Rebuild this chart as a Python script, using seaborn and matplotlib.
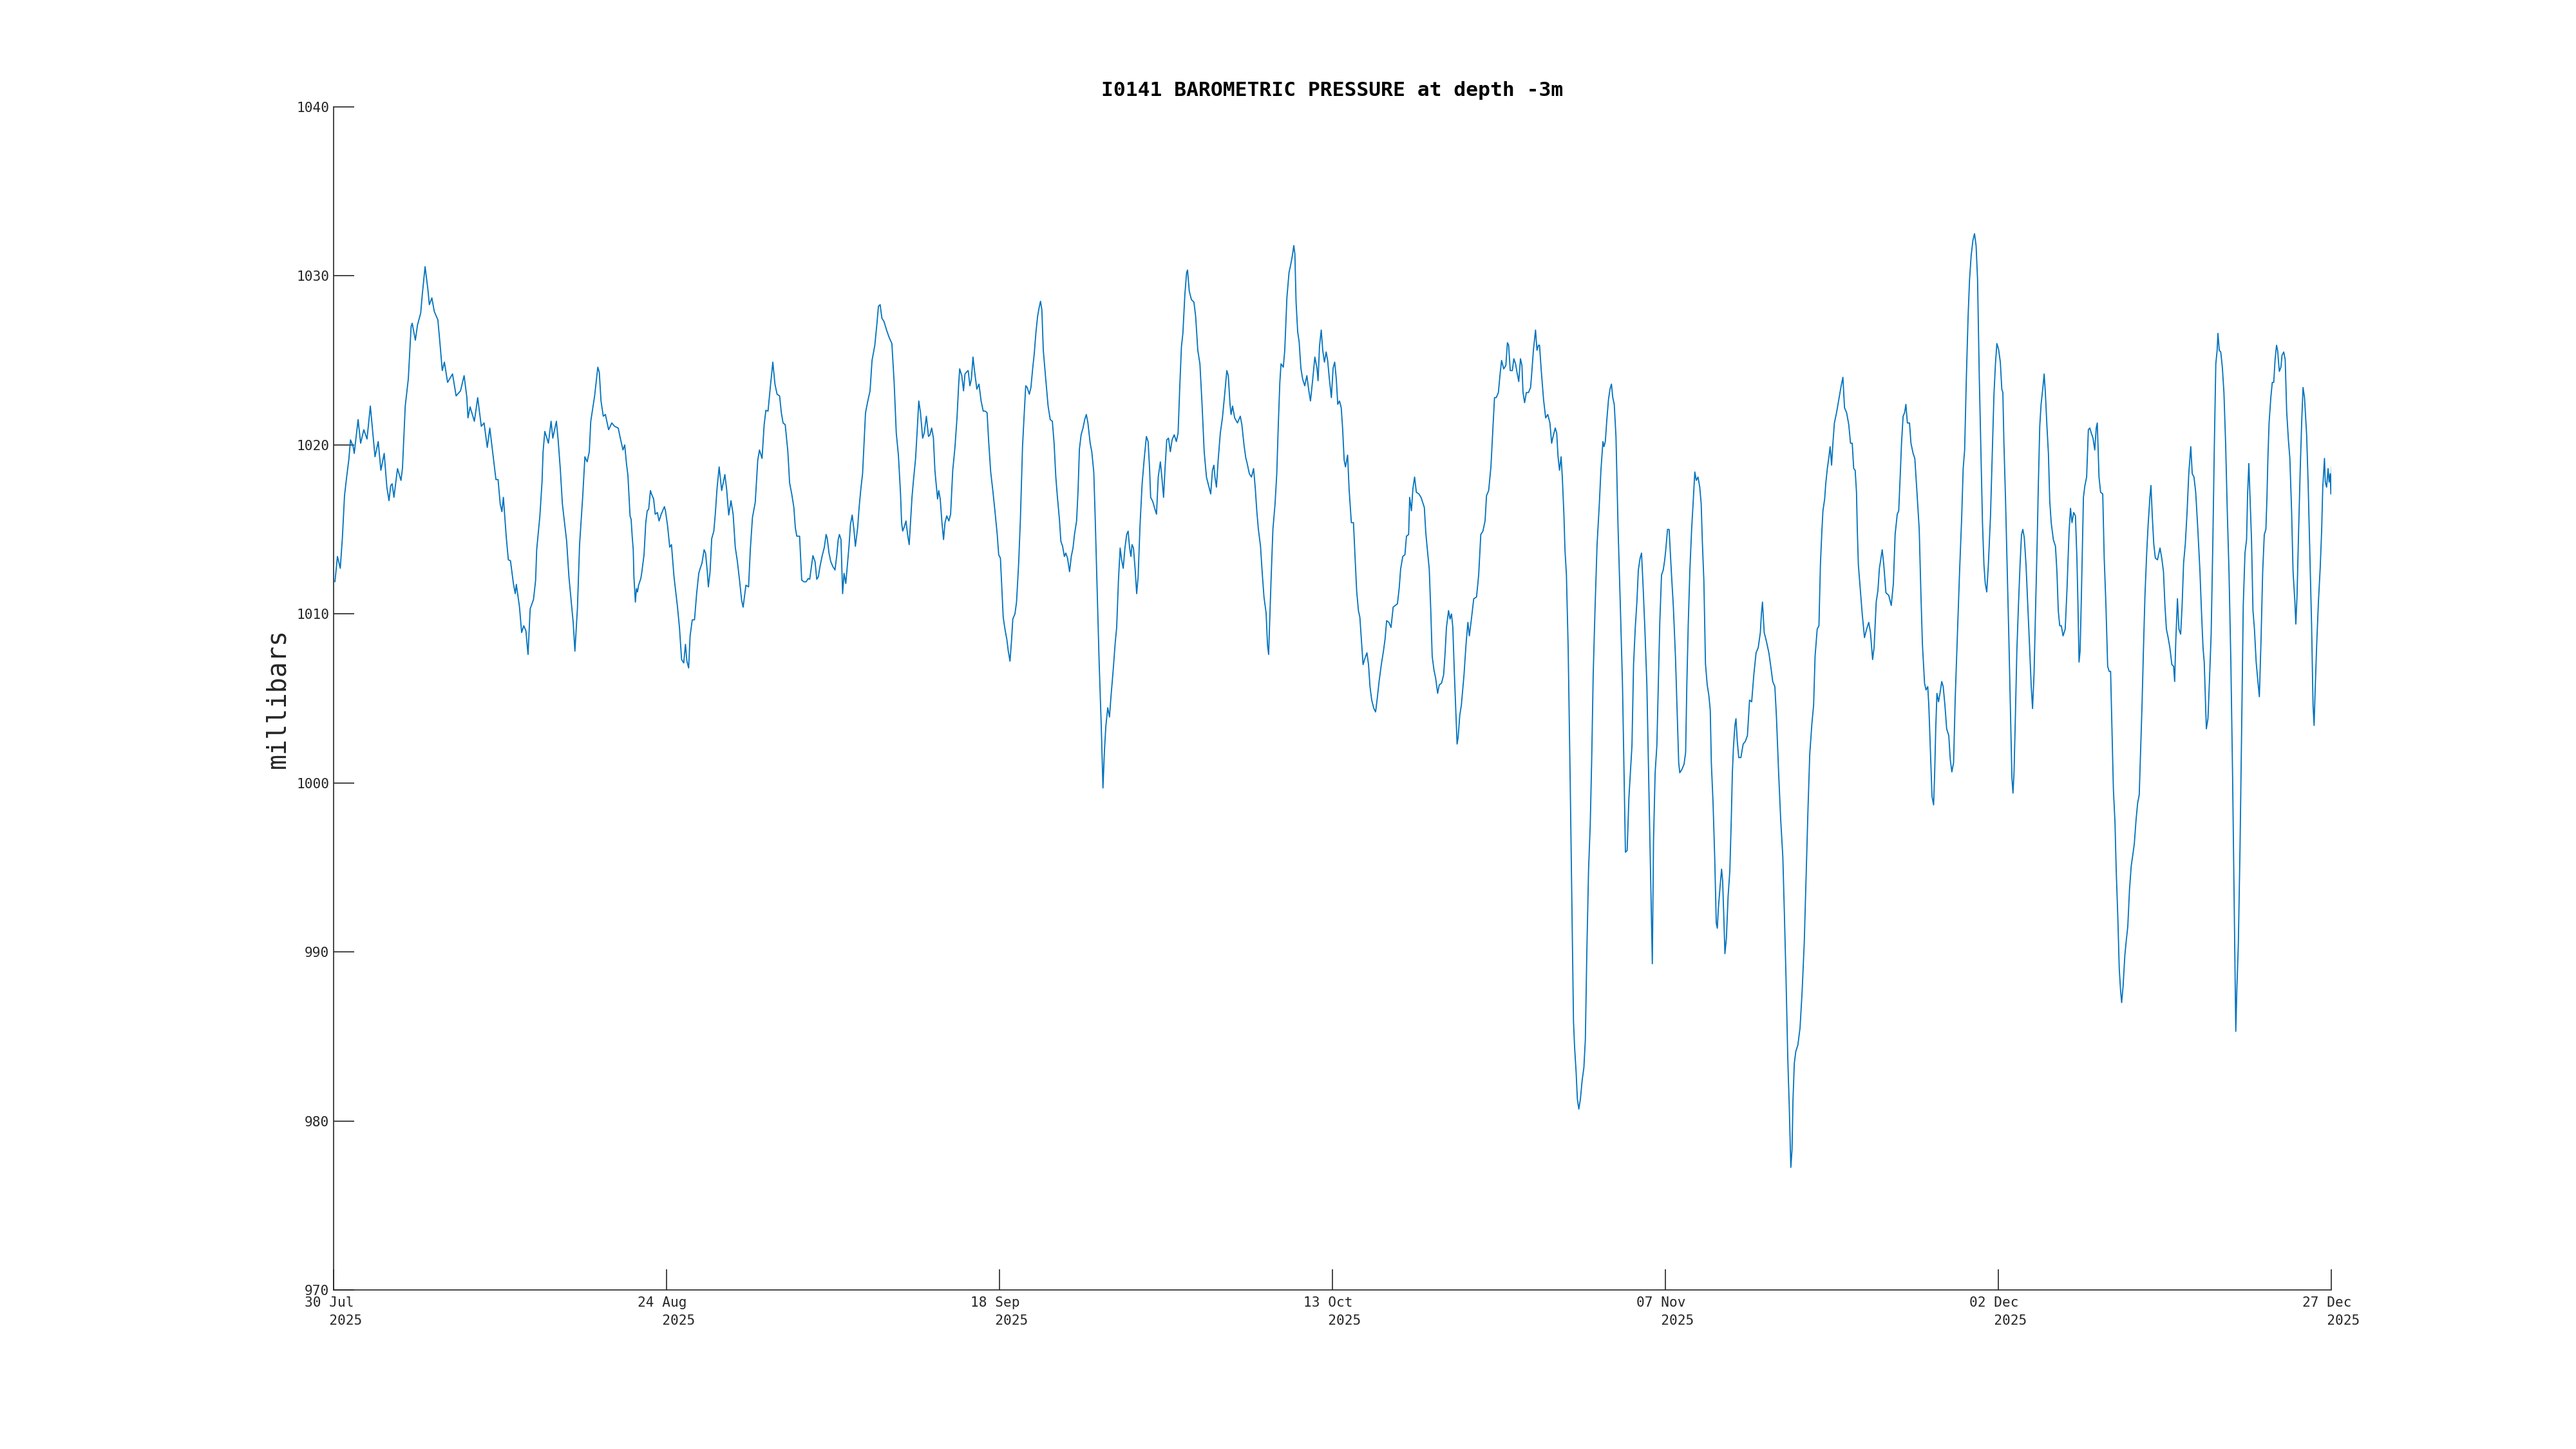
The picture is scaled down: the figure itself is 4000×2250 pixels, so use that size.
import numpy as np
import pandas as pd
import seaborn as sns
import matplotlib.pyplot as plt
import matplotlib.dates as mdates

# pressure readings, days counted from 30 Jul 2025
start = pd.Timestamp("2025-07-30")

days_a = [0.10, 0.29, 0.50, 0.66, 0.82, 0.98, 1.14, 1.27, 1.47, 1.55,
          1.84, 2.03, 2.27, 2.51, 2.76, 3.11, 3.35, 3.55, 3.80, 4.00,
          4.16, 4.29, 4.40, 4.53, 4.80, 5.06, 5.17, 5.38, 5.61, 5.82,
          5.90, 6.14, 6.30, 6.54, 6.66, 6.87, 7.08, 7.19, 7.38, 7.56,
          7.83, 8.00, 8.16, 8.32, 8.56, 8.93, 9.20, 9.53, 9.80, 10.01,
          10.09, 10.25, 10.57, 10.82, 11.09, 11.30, 11.54, 11.73, 11.94, 12.19,
          12.35, 12.51, 12.64, 12.75, 12.96, 13.12, 13.28, 13.51, 13.64, 13.72,
          13.96, 14.12, 14.28, 14.44, 14.60, 14.76, 15.01, 15.17, 15.25, 15.49,
          15.65, 15.73, 15.86, 16.13, 16.33, 16.46, 16.73, 16.86, 17.02, 17.18,
          17.50, 17.67, 17.99, 18.12, 18.31, 18.47, 18.71, 18.87, 19.04, 19.20,
          19.31, 19.60, 19.84, 19.95, 20.08, 20.25, 20.41, 20.65, 20.89, 21.10,
          21.37]
mbar_a = [1011.9, 1013.4, 1012.7, 1014.5, 1017.0, 1018.1, 1019.1, 1020.3, 1019.9, 1019.5,
          1021.5, 1020.1, 1020.9, 1020.35, 1022.3, 1019.3, 1020.2, 1018.5, 1019.5, 1017.5,
          1016.7, 1017.6, 1017.7, 1016.9, 1018.6, 1017.9, 1018.6, 1022.3, 1023.9, 1027.0,
          1027.2, 1026.2, 1027.1, 1027.8, 1028.9, 1030.55, 1029.2, 1028.3, 1028.7, 1027.9,
          1027.4, 1025.9, 1024.4, 1024.9, 1023.7, 1024.2, 1022.9, 1023.2, 1024.1, 1022.8,
          1021.6, 1022.25, 1021.4, 1022.8, 1021.1, 1021.3, 1019.85, 1021.0, 1019.6, 1017.95,
          1017.95, 1016.5, 1016.05, 1016.9, 1014.6, 1013.2, 1013.15, 1011.75, 1011.2, 1011.75,
          1010.4, 1008.9, 1009.3, 1009.0, 1007.6, 1010.3, 1010.85, 1012.0, 1013.8, 1015.8,
          1017.8, 1019.6, 1020.8, 1020.1, 1021.4, 1020.4, 1021.4, 1020.3, 1018.6, 1016.5,
          1014.3, 1012.2, 1009.5, 1007.8, 1010.35, 1014.1, 1017.0, 1019.3, 1019.0, 1019.6,
          1021.4, 1022.9, 1024.6, 1024.3, 1022.6, 1021.7, 1021.8, 1020.9, 1021.3, 1021.1,
          1021.0]

days_b = [21.53, 21.73, 21.86, 21.99, 22.10, 22.26, 22.34, 22.42, 22.50, 22.55,
          22.66, 22.74, 22.82, 22.90, 23.07, 23.15, 23.31, 23.44, 23.55, 23.66,
          23.79, 23.87, 24.03, 24.15, 24.31, 24.44, 24.60, 24.84, 24.92, 25.08,
          25.24, 25.37, 25.56, 25.81, 25.97, 26.13, 26.29, 26.42, 26.53, 26.66,
          26.77, 26.93, 27.10, 27.26, 27.42, 27.53, 27.66, 27.82, 27.93, 28.06,
          28.14, 28.27, 28.39, 28.55, 28.66, 28.79, 28.95, 29.14, 29.27, 29.38,
          29.51, 29.67, 29.84, 30.00, 30.16, 30.32, 30.48, 30.64, 30.75, 30.96,
          31.16, 31.29, 31.45, 31.66, 31.85, 31.98, 32.17, 32.33, 32.46, 32.62,
          32.79, 32.98, 33.14, 33.30, 33.49, 33.62, 33.75, 33.91, 34.11, 34.24,
          34.40, 34.56, 34.67, 34.78, 34.99, 35.15, 35.32, 35.48, 35.64, 35.75,
          35.88, 35.99, 36.15, 36.28, 36.40, 36.52, 36.69, 36.85, 36.98, 37.06,
          37.20, 37.33, 37.49, 37.65, 37.78, 37.89, 37.98, 38.10, 38.22, 38.33,
          38.46, 38.62, 38.70, 38.81, 38.94, 39.07, 39.18, 39.35, 39.46, 39.59,
          39.72, 39.83, 39.94, 40.10, 40.28, 40.43, 40.64, 40.80, 40.91, 41.04,
          41.17, 41.33, 41.52, 41.72, 41.92, 42.09, 42.25, 42.41, 42.57]
mbar_b = [1020.4, 1019.7, 1020.0, 1018.9, 1018.2, 1015.8, 1015.6, 1014.6, 1013.8, 1012.2,
          1010.7, 1011.5, 1011.3, 1011.7, 1012.1, 1012.5, 1013.5, 1015.4, 1016.1, 1016.2,
          1017.3, 1017.1, 1016.8, 1015.9, 1016.0, 1015.5, 1015.9, 1016.35, 1016.1, 1015.2,
          1013.95, 1014.1, 1012.2, 1010.5, 1009.2, 1007.3, 1007.1, 1008.2, 1007.2, 1006.8,
          1008.7, 1009.65, 1009.65, 1011.2, 1012.4, 1012.7, 1013.0, 1013.8, 1013.6, 1012.5,
          1011.6, 1012.5, 1014.45, 1014.9, 1015.9, 1017.4, 1018.7, 1017.3, 1017.8, 1018.25,
          1017.4, 1015.85, 1016.7, 1015.9, 1013.95, 1013.1, 1012.0, 1010.8, 1010.4, 1011.7,
          1011.6, 1013.8, 1015.7, 1016.6, 1019.1, 1019.7, 1019.2, 1021.2, 1022.05, 1022.0,
          1023.4, 1024.9, 1023.6, 1023.0, 1022.9, 1021.9, 1021.3, 1021.2, 1019.6, 1017.75,
          1017.1, 1016.3, 1015.1, 1014.6, 1014.6, 1012.0, 1011.9, 1011.9, 1012.1, 1012.05,
          1012.8, 1013.45, 1013.1, 1012.05, 1012.2, 1012.8, 1013.45, 1013.95, 1014.7, 1014.5,
          1013.6, 1013.1, 1012.8, 1012.6, 1013.45, 1014.4, 1014.7, 1014.4, 1011.2, 1012.4,
          1011.8, 1013.3, 1014.0, 1015.3, 1015.85, 1015.0, 1014.0, 1015.1, 1016.3, 1017.4,
          1018.3, 1020.1, 1021.9, 1022.55, 1023.2, 1025.0, 1025.9, 1027.2, 1028.2, 1028.3,
          1027.5, 1027.3, 1026.8, 1026.35, 1026.0, 1023.7, 1020.7, 1019.4, 1017.1]

days_c = [42.65, 42.73, 42.85, 42.98, 43.10, 43.22, 43.33, 43.43, 43.54, 43.70,
          43.81, 43.94, 44.07, 44.23, 44.35, 44.51, 44.67, 44.78, 44.91, 45.04,
          45.15, 45.35, 45.44, 45.55, 45.68, 45.80, 45.91, 46.04, 46.20, 46.33,
          46.49, 46.65, 46.81, 46.93, 47.01, 47.17, 47.30, 47.41, 47.57, 47.65,
          47.78, 47.89, 48.01, 48.13, 48.30, 48.46, 48.62, 48.78, 48.94, 49.07,
          49.18, 49.34, 49.50, 49.67, 49.83, 49.94, 50.07, 50.18, 50.28, 50.42,
          50.55, 50.66, 50.79, 50.91, 51.00, 51.16, 51.28, 51.44, 51.57, 51.73,
          51.84, 51.97, 52.08, 52.24, 52.36, 52.49, 52.61, 52.73, 52.86, 52.97,
          53.08, 53.18, 53.29, 53.45, 53.65, 53.81, 53.97, 54.10, 54.23, 54.34,
          54.50, 54.61, 54.74, 54.87, 54.98, 55.11, 55.26, 55.39, 55.52, 55.63,
          55.79, 55.90, 56.00, 56.13, 56.27, 56.40, 56.52, 56.64, 56.81, 56.93,
          57.08, 57.19, 57.32, 57.48, 57.64, 57.77, 57.88, 57.99, 58.13, 58.26,
          58.37, 58.53, 58.69, 58.80, 58.93, 59.06, 59.17, 59.29, 59.42, 59.55,
          59.66, 59.77, 59.87, 59.95, 60.06, 60.19, 60.30, 60.41, 60.55, 60.71,
          60.87, 61.03, 61.16, 61.27, 61.35, 61.51, 61.67, 61.79, 61.92, 62.08,
          62.19, 62.32, 62.43, 62.56, 62.69, 62.83, 62.96, 63.12, 63.28, 63.41,
          63.53, 63.66, 63.77]
mbar_c = [1015.4, 1014.9, 1015.15, 1015.5, 1014.7, 1014.1, 1015.6, 1016.9, 1017.9, 1019.2,
          1020.7, 1022.6, 1021.9, 1020.4, 1020.7, 1021.7, 1020.5, 1020.6, 1021.0, 1020.4,
          1018.5, 1016.8, 1017.3, 1016.8, 1015.4, 1014.4, 1015.4, 1015.8, 1015.5, 1015.9,
          1018.5, 1019.8, 1021.6, 1023.5, 1024.5, 1024.1, 1023.2, 1024.2, 1024.35, 1024.4,
          1023.5, 1023.9, 1025.2, 1024.35, 1023.3, 1023.6, 1022.6, 1022.0, 1022.0, 1021.9,
          1020.3, 1018.4, 1017.3, 1016.0, 1014.7, 1013.5, 1013.3, 1011.5, 1009.8, 1009.05,
          1008.5, 1007.8, 1007.2, 1008.5, 1009.7, 1010.0, 1010.7, 1013.0, 1015.6, 1019.9,
          1021.6, 1023.5, 1023.4, 1023.0, 1023.4, 1024.5, 1025.4, 1026.6, 1027.6, 1028.1,
          1028.5, 1028.0, 1025.6, 1024.1, 1022.3, 1021.5, 1021.4, 1020.1, 1018.1, 1017.0,
          1015.6, 1014.3, 1014.0, 1013.4, 1013.6, 1013.3, 1012.5, 1013.4, 1013.9, 1014.7,
          1015.5, 1017.3, 1019.75, 1020.6, 1021.0, 1021.5, 1021.8, 1021.3, 1020.1, 1019.6,
          1018.4, 1015.6, 1011.9, 1007.2, 1003.4, 999.7, 1001.9, 1003.4, 1004.45, 1003.9,
          1005.1, 1006.6, 1008.3, 1009.2, 1011.95, 1013.9, 1013.2, 1012.7, 1013.9, 1014.7,
          1014.9, 1013.9, 1013.4, 1014.1, 1013.9, 1012.6, 1011.2, 1012.2, 1015.2, 1017.7,
          1019.2, 1020.5, 1020.2, 1018.6, 1016.9, 1016.65, 1016.2, 1015.9, 1018.1, 1019.0,
          1018.1, 1016.9, 1018.6, 1020.3, 1020.4, 1019.6, 1020.3, 1020.6, 1020.2, 1020.7,
          1023.3, 1025.8, 1026.6]

days_d = [63.92, 64.05, 64.12, 64.25, 64.41, 64.60, 64.73, 64.89, 65.05, 65.21,
          65.37, 65.54, 65.70, 65.86, 65.99, 66.10, 66.18, 66.29, 66.42, 66.58,
          66.74, 66.91, 67.07, 67.18, 67.31, 67.39, 67.50, 67.66, 67.87, 68.08,
          68.20, 68.36, 68.49, 68.60, 68.76, 68.92, 69.08, 69.21, 69.32, 69.44,
          69.60, 69.73, 69.86, 70.02, 70.13, 70.21, 70.29, 70.40, 70.53, 70.69,
          70.82, 70.94, 71.05, 71.14, 71.31, 71.42, 71.58, 71.74, 71.85, 71.98,
          72.10, 72.18, 72.27, 72.39, 72.50, 72.63, 72.76, 72.92, 73.08, 73.22,
          73.35, 73.51, 73.68, 73.84, 73.92, 74.03, 74.16, 74.27, 74.40, 74.53,
          74.64, 74.77, 74.92, 75.05, 75.17, 75.29, 75.40, 75.53, 75.66, 75.77,
          75.88, 75.98, 76.14, 76.25, 76.42, 76.58, 76.69, 76.82, 76.95, 77.06,
          77.17, 77.30, 77.43, 77.59, 77.71, 77.82, 77.95, 78.11, 78.24, 78.35,
          78.51, 78.67, 78.83, 78.95, 79.07, 79.24, 79.40, 79.56, 79.72, 79.88,
          80.01, 80.12, 80.28, 80.44, 80.56, 80.72, 80.80, 80.93, 81.04, 81.17,
          81.30, 81.49, 81.65, 81.90, 82.01, 82.14, 82.27, 82.38, 82.49, 82.62,
          82.75, 82.90, 83.02, 83.19, 83.35, 83.46, 83.56, 83.72, 83.83, 83.94,
          84.04, 84.15, 84.27, 84.36, 84.44, 84.56, 84.68]
mbar_d = [1028.9, 1030.2, 1030.35, 1029.1, 1028.6, 1028.45, 1027.6, 1025.6, 1024.8, 1022.4,
          1019.6, 1018.1, 1017.6, 1017.1, 1018.5, 1018.8, 1018.1, 1017.5, 1019.1, 1020.7,
          1021.6, 1023.0, 1024.4, 1024.1, 1022.4, 1021.8, 1022.3, 1021.6, 1021.3, 1021.7,
          1021.2, 1020.0, 1019.25, 1018.9, 1018.3, 1018.1, 1018.6, 1017.4, 1016.1, 1015.0,
          1014.0, 1012.4, 1011.0, 1010.05, 1008.1, 1007.6, 1009.6, 1012.2, 1015.0, 1016.5,
          1018.3, 1021.3, 1023.7, 1024.8, 1024.6, 1025.6, 1028.7, 1030.2, 1030.6, 1031.15,
          1031.8, 1031.3, 1028.45, 1026.7, 1026.1, 1024.55, 1023.9, 1023.5, 1024.1, 1023.25,
          1022.6, 1023.8, 1025.2, 1024.55, 1023.8, 1025.85, 1026.8, 1025.6, 1024.9, 1025.5,
          1025.0, 1023.9, 1022.8, 1024.55, 1024.9, 1023.9, 1022.4, 1022.6, 1022.2, 1020.9,
          1019.1, 1018.7, 1019.4, 1017.4, 1015.4, 1015.4, 1013.5, 1011.35, 1010.2, 1009.8,
          1008.5, 1007.0, 1007.35, 1007.7, 1007.0, 1005.7, 1004.9, 1004.4, 1004.2, 1004.9,
          1006.05, 1007.0, 1007.8, 1008.5, 1009.6, 1009.5, 1009.2, 1010.4, 1010.5, 1010.6,
          1011.5, 1012.65, 1013.4, 1013.5, 1014.6, 1014.7, 1016.9, 1016.1, 1017.4, 1018.1,
          1017.2, 1017.1, 1016.9, 1016.3, 1014.8, 1013.7, 1012.65, 1010.3, 1007.5, 1006.7,
          1006.2, 1005.3, 1005.8, 1005.9, 1006.4, 1007.7, 1009.2, 1010.2, 1009.7, 1010.0,
          1009.2, 1006.6, 1004.2, 1002.3, 1002.7, 1004.0, 1004.6]

days_e = [84.88, 85.04, 85.17, 85.28, 85.45, 85.61, 85.82, 85.98, 86.14, 86.30,
          86.46, 86.57, 86.73, 86.90, 87.06, 87.17, 87.30, 87.46, 87.59, 87.70,
          87.86, 88.02, 88.14, 88.23, 88.35, 88.51, 88.62, 88.75, 88.88, 88.99,
          89.12, 89.23, 89.31, 89.43, 89.56, 89.72, 89.88, 89.96, 90.09, 90.25,
          90.36, 90.47, 90.55, 90.68, 90.85, 91.01, 91.17, 91.33, 91.46, 91.57,
          91.73, 91.84, 91.94, 92.05, 92.17, 92.26, 92.38, 92.46, 92.57, 92.70,
          92.86, 93.02, 93.10, 93.18, 93.30, 93.39, 93.50, 93.62, 93.75, 93.88,
          93.99, 94.10, 94.23, 94.36, 94.47, 94.58, 94.71, 94.87, 95.04, 95.16,
          95.31, 95.39, 95.49, 95.60, 95.73, 95.84, 95.95, 96.05, 96.16, 96.29,
          96.45, 96.62, 96.78, 96.89, 97.00, 97.13, 97.26, 97.37, 97.49, 97.61,
          97.74, 97.86, 97.97, 98.10, 98.21, 98.34, 98.47, 98.61, 98.74, 98.87,
          98.95, 99.02, 99.11, 99.23, 99.36, 99.47, 99.58, 99.71, 99.84, 99.95,
          100.03, 100.16, 100.28, 100.44, 100.60, 100.76, 100.89, 101.00, 101.08, 101.24,
          101.40, 101.52, 101.61, 101.72, 101.84, 101.97, 102.10, 102.21, 102.32, 102.45,
          102.58, 102.69, 102.77, 102.89, 103.01, 103.14, 103.26, 103.37, 103.45, 103.58,
          103.71, 103.82, 103.90, 103.98, 104.11, 104.22, 104.30, 104.39, 104.47, 104.58,
          104.71, 104.84, 104.95, 105.03, 105.11, 105.22, 105.30, 105.40, 105.51, 105.67,
          105.84]
mbar_e = [1006.4, 1008.3, 1009.5, 1008.7, 1009.8, 1010.9, 1011.0, 1012.3, 1014.7, 1014.9,
          1015.5, 1017.0, 1017.3, 1018.7, 1021.1, 1022.8, 1022.8, 1023.1, 1024.2, 1025.0,
          1024.5, 1024.7, 1026.05, 1025.9, 1024.4, 1024.4, 1025.1, 1024.8, 1024.2, 1023.75,
          1025.1, 1024.7, 1023.1, 1022.5, 1023.1, 1023.1, 1023.4, 1024.2, 1025.6, 1026.8,
          1025.6, 1025.9, 1025.9, 1024.4, 1022.7, 1021.6, 1021.8, 1021.3, 1020.1, 1020.5,
          1021.0, 1020.7, 1019.3, 1018.5, 1019.3, 1018.1, 1015.9, 1013.8, 1012.3, 1008.0,
          999.7, 990.5, 985.9, 984.4, 982.85, 981.3, 980.7, 981.3, 982.4, 983.15,
          984.8, 989.9, 994.8, 997.6, 1001.5, 1006.4, 1010.1, 1014.1, 1016.5, 1018.5,
          1020.2, 1019.9, 1020.2, 1021.45, 1022.7, 1023.3, 1023.6, 1022.8, 1022.4, 1020.5,
          1015.0, 1010.4, 1005.8, 1000.9, 995.9, 996.0, 999.1, 1000.6, 1002.2, 1007.0,
          1009.2, 1010.7, 1012.6, 1013.3, 1013.6, 1011.4, 1008.9, 1005.8, 1000.6, 995.4,
          992.0, 989.3, 996.6, 1000.6, 1002.2, 1005.8, 1009.5, 1012.3, 1012.6, 1013.2,
          1013.8, 1015.0, 1015.0, 1012.6, 1010.4, 1007.4, 1004.0, 1001.2, 1000.6, 1000.8,
          1001.1, 1001.8, 1005.8, 1009.5, 1012.6, 1015.0, 1016.8, 1018.4, 1017.9, 1018.1,
          1017.5, 1016.5, 1014.4, 1011.95, 1007.05, 1005.8, 1005.2, 1004.3, 1001.2, 998.8,
          995.4, 991.7, 991.4, 992.6, 993.9, 994.9, 994.2, 992.0, 989.9, 990.8,
          993.3, 994.8, 997.9, 1000.6, 1002.1, 1003.4, 1003.8, 1002.45, 1001.5, 1001.5,
          1002.3]

days_f = [106.00, 106.16, 106.32, 106.48, 106.64, 106.81, 106.97, 107.13, 107.21, 107.29,
          107.42, 107.58, 107.77, 107.93, 108.06, 108.22, 108.34, 108.50, 108.66, 108.82,
          108.93, 109.06, 109.19, 109.30, 109.42, 109.51, 109.58, 109.68, 109.79, 109.95,
          110.11, 110.27, 110.43, 110.59, 110.71, 110.84, 111.00, 111.13, 111.24, 111.40,
          111.53, 111.64, 111.75, 111.83, 111.96, 112.04, 112.16, 112.29, 112.37, 112.48,
          112.58, 112.69, 112.85, 112.96, 113.09, 113.20, 113.33, 113.45, 113.61, 113.77,
          113.90, 114.03, 114.14, 114.25, 114.35, 114.41, 114.49, 114.62, 114.78, 114.95,
          115.11, 115.27, 115.40, 115.56, 115.67, 115.83, 115.96, 116.07, 116.15, 116.28,
          116.40, 116.56, 116.77, 116.96, 117.12, 117.25, 117.41, 117.52, 117.64, 117.73,
          117.85, 117.96, 118.06, 118.17, 118.33, 118.44, 118.60, 118.73, 118.89, 119.06,
          119.19, 119.30, 119.46, 119.57, 119.70, 119.78, 119.89, 120.02, 120.14, 120.22,
          120.30, 120.39, 120.51, 120.62, 120.75, 120.86, 120.99, 121.12, 121.28, 121.39,
          121.51, 121.64, 121.76, 121.93, 122.09, 122.25, 122.36, 122.47, 122.60, 122.73,
          122.84, 122.96, 123.09, 123.21, 123.33, 123.44, 123.57, 123.70, 123.81, 123.92,
          124.02, 124.13, 124.25, 124.41, 124.54, 124.67, 124.78, 124.89, 125.02, 125.15,
          125.26, 125.34, 125.42, 125.54, 125.66, 125.79, 125.91, 126.02, 126.10, 126.18,
          126.28, 126.39, 126.52, 126.63, 126.74, 126.84, 126.95, 127.08, 127.24, 127.36,
          127.47, 127.57, 127.68]
mbar_f = [1002.45, 1002.8, 1004.9, 1004.8, 1006.4, 1007.7, 1008.0, 1008.9, 1010.0, 1010.7,
          1008.9, 1008.4, 1007.7, 1006.8, 1006.0, 1005.7, 1003.9, 1000.65, 997.8, 995.6,
          992.4, 988.4, 983.7, 980.9, 977.25, 978.3, 981.2, 983.4, 984.1, 984.5,
          985.5, 987.7, 990.6, 995.2, 998.5, 1001.7, 1003.5, 1004.6, 1007.5, 1009.1,
          1009.3, 1012.9, 1014.9, 1016.1, 1016.8, 1017.7, 1018.6, 1019.35, 1019.9, 1018.8,
          1020.1, 1021.3, 1021.9, 1022.4, 1023.0, 1023.5, 1024.0, 1022.2, 1021.9, 1021.2,
          1020.1, 1020.1, 1018.6, 1018.5, 1017.2, 1015.0, 1012.9, 1011.6, 1010.0, 1008.6,
          1009.1, 1009.5, 1008.9, 1007.3, 1008.0, 1010.7, 1011.4, 1012.7, 1013.1, 1013.8,
          1012.9, 1011.25, 1011.1, 1010.5, 1011.8, 1014.7, 1015.9, 1016.1, 1018.3, 1020.1,
          1021.7, 1021.9, 1022.4, 1021.3, 1021.3, 1020.1, 1019.5, 1019.2, 1017.2, 1015.0,
          1011.1, 1008.2, 1005.9, 1005.5, 1005.7, 1004.6, 1002.1, 999.2, 998.7, 1000.6,
          1003.2, 1005.3, 1004.8, 1005.3, 1006.0, 1005.7, 1004.6, 1003.2, 1002.8, 1001.4,
          1000.65, 1001.2, 1004.95, 1008.9, 1012.5, 1015.75, 1018.6, 1019.7, 1024.0, 1027.6,
          1029.8, 1031.2, 1032.1, 1032.5, 1031.8, 1029.8, 1024.0, 1019.35, 1015.4, 1012.9,
          1011.8, 1011.3, 1012.9, 1015.75, 1019.35, 1022.95, 1024.75, 1026.0, 1025.65, 1024.9,
          1023.3, 1023.1, 1020.1, 1016.8, 1012.9, 1008.6, 1004.2, 1000.3, 999.4, 1000.65,
          1003.9, 1007.8, 1010.7, 1012.9, 1014.7, 1015.0, 1014.5, 1012.9, 1010.0, 1007.8,
          1005.7, 1004.4, 1006.4]

days_g = [127.92, 128.00, 128.11, 128.21, 128.32, 128.44, 128.53, 128.65, 128.76, 128.86,
          128.97, 129.13, 129.29, 129.40, 129.50, 129.61, 129.73, 129.86, 130.02, 130.15,
          130.31, 130.42, 130.53, 130.66, 130.79, 130.90, 130.98, 131.06, 131.14, 131.23,
          131.31, 131.39, 131.50, 131.63, 131.76, 131.87, 131.98, 132.11, 132.24, 132.35,
          132.43, 132.56, 132.68, 132.84, 132.95, 133.08, 133.21, 133.32, 133.43, 133.53,
          133.64, 133.76, 133.85, 133.97, 134.08, 134.18, 134.26, 134.37, 134.50, 134.61,
          134.72, 134.85, 134.98, 135.09, 135.21, 135.34, 135.46, 135.58, 135.69, 135.79,
          135.90, 136.01, 136.14, 136.25, 136.38, 136.46, 136.56, 136.67, 136.79, 136.95,
          137.14, 137.27, 137.40, 137.51, 137.62, 137.75, 137.88, 138.03, 138.16, 138.24,
          138.32, 138.45, 138.56, 138.69, 138.80, 138.91, 139.04, 139.17, 139.30, 139.45,
          139.56, 139.69, 139.82, 139.98, 140.14, 140.25, 140.37, 140.46, 140.54, 140.62,
          140.74, 140.85, 140.98, 141.11, 141.22, 141.33, 141.43, 141.49, 141.59, 141.70,
          141.82, 141.94, 142.07, 142.19, 142.32, 142.46, 142.59, 142.72, 142.83, 142.91,
          143.02, 143.15, 143.27, 143.39, 143.52, 143.64, 143.72, 143.81, 143.91, 144.01,
          144.12, 144.23, 144.36, 144.49, 144.60, 144.72, 144.85, 144.97, 145.09, 145.17,
          145.24, 145.33, 145.46, 145.57, 145.68, 145.78, 145.89, 145.97, 146.10, 146.22,
          146.30, 146.43, 146.54, 146.65, 146.78, 146.89, 147.02, 147.13, 147.26, 147.34,
          147.43, 147.55, 147.67, 147.78, 147.88, 147.99, 148.07, 148.15, 148.26, 148.39,
          148.52, 148.63, 148.71, 148.79, 148.91, 149.04, 149.17, 149.28, 149.36, 149.49,
          149.55, 149.65, 149.76, 149.84, 149.92, 149.97, 150.04]
mbar_g = [1014.4, 1017.5, 1021.1, 1022.4, 1023.2, 1024.2, 1023.1, 1021.1, 1019.5, 1016.7,
          1015.4, 1014.4, 1014.0, 1012.5, 1010.2, 1009.3, 1009.3, 1008.7, 1009.1, 1011.35,
          1014.85, 1016.25, 1015.4, 1016.0, 1015.8, 1013.3, 1010.5, 1007.15, 1007.8, 1010.8,
          1013.9, 1016.9, 1017.6, 1018.1, 1020.9, 1021.0, 1020.7, 1020.4, 1019.7, 1021.0,
          1021.3, 1018.1, 1017.2, 1017.1, 1013.3, 1010.5, 1006.9, 1006.6, 1006.6, 1003.2,
          999.6, 997.65, 994.85, 992.1, 989.0, 987.7, 987.0, 988.0, 989.8, 990.7,
          991.5, 993.7, 995.1, 995.7, 996.4, 997.8, 998.8, 999.3, 1002.1, 1004.6,
          1008.0, 1011.1, 1013.6, 1015.3, 1016.9, 1017.6, 1015.8, 1014.15, 1013.3, 1013.2,
          1013.9, 1013.3, 1012.5, 1010.5, 1009.1, 1008.6, 1008.0, 1007.0, 1006.9, 1006.0,
          1008.3, 1010.9, 1009.1, 1008.8, 1010.5, 1013.0, 1014.15, 1016.0, 1018.3, 1019.9,
          1018.3, 1018.1, 1017.2, 1015.0, 1012.5, 1010.2, 1008.0, 1007.15, 1005.2, 1003.2,
          1003.8, 1006.0, 1008.8, 1014.4, 1020.0, 1024.8, 1025.6, 1026.6, 1025.6, 1025.5,
          1024.6, 1023.1, 1020.0, 1016.1, 1012.5, 1007.15, 1000.4, 992.06, 985.3, 987.8,
          990.4, 996.25, 1003.2, 1010.5, 1013.6, 1014.4, 1017.2, 1018.9, 1016.7, 1014.4,
          1010.2, 1009.1, 1007.15, 1006.0, 1005.1, 1008.3, 1012.5, 1014.7, 1015.0, 1016.9,
          1019.2, 1021.3, 1022.8, 1023.7, 1023.7, 1025.05, 1025.9, 1025.6, 1024.35, 1024.6,
          1025.3, 1025.5, 1025.05, 1022.0, 1020.3, 1019.2, 1016.1, 1012.5, 1010.8, 1009.4,
          1011.1, 1015.0, 1018.6, 1021.4, 1023.4, 1022.8, 1021.7, 1020.6, 1017.8, 1013.6,
          1009.4, 1004.6, 1003.4, 1005.5, 1008.3, 1010.8, 1012.75, 1015.0, 1017.5, 1019.2,
          1017.8, 1017.5, 1018.6, 1017.8, 1018.3, 1017.1, 1018.8]

tick_days = [0, 25, 50, 75, 100, 125, 150]
tick_labels = ["30 Jul", "24 Aug", "18 Sep", "13 Oct", "07 Nov", "02 Dec", "27 Dec"]
year_label = "2025"
y_ticks = [970, 980, 990, 1000, 1010, 1020, 1030, 1040]

title = "I0141 BAROMETRIC PRESSURE at depth -3m"

days = np.concatenate([days_a, days_b, days_c, days_d, days_e, days_f, days_g])
mbar = np.concatenate([mbar_a, mbar_b, mbar_c, mbar_d, mbar_e, mbar_f, mbar_g])
df = pd.DataFrame({"time": start + pd.to_timedelta(days, unit="D"), "mbar": mbar})

sns.set_theme(style="white")
plt.rcParams["font.family"] = ["DejaVu Sans Mono", "DejaVu Sans"]
ink = "#262626"

fig = plt.figure(figsize=(20, 11.25), dpi=200)
ax = fig.add_axes([0.1295, 0.1098, 0.7755, 0.8164])

sns.lineplot(data=df, x="time", y="mbar", ax=ax, color="#0072BD",
             linewidth=0.65, estimator=None, sort=False)

tick_dates = [mdates.date2num(start + pd.Timedelta(days=d)) for d in tick_days]
ax.set_xlim(tick_dates[0], tick_dates[-1])
ax.set_ylim(970, 1040)
ax.set_xticks(tick_dates)
ax.set_xticklabels([f"{t}\n   {year_label}" for t in tick_labels])
ax.set_yticks(y_ticks)
ax.set_yticklabels([str(v) for v in y_ticks])

for lbl in ax.get_xticklabels():
    lbl.set_multialignment("left")
    lbl.set_linespacing(1.55)

ax.spines[["top", "right"]].set_visible(False)
for s in ["left", "bottom"]:
    ax.spines[s].set_color(ink)
    ax.spines[s].set_linewidth(0.6)

ax.tick_params(axis="both", direction="in", length=11.5, width=0.6,
               colors=ink, labelsize=7.6, bottom=True, left=True)
ax.tick_params(axis="y", pad=2.5)
ax.tick_params(axis="x", pad=3.5)

ax.set_xlabel("")
ax.set_ylabel("millibars", fontsize=14.4, color=ink, labelpad=3)
ax.set_title(title, fontsize=11.3, fontweight="bold", color="black", pad=6)

fig.savefig("out.png", dpi=200)
